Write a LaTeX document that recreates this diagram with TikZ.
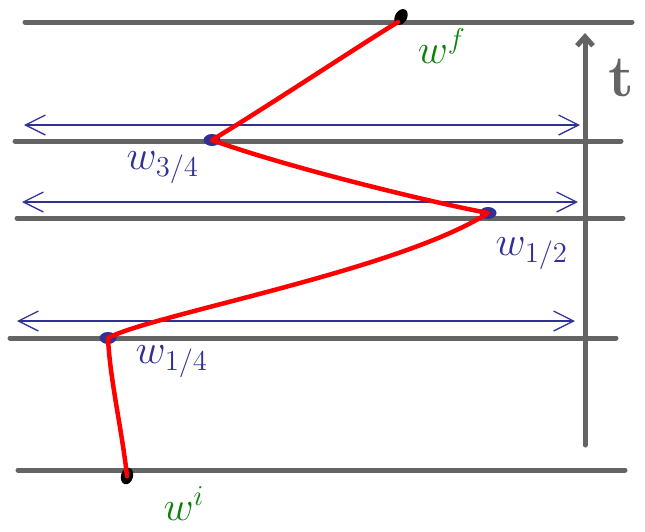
\documentclass[tikz,border=0pt]{standalone}
\usepackage{xcolor}
\usetikzlibrary{arrows.meta,shapes.geometric}
\definecolor{penblue}{RGB}{48,48,150}
\definecolor{pengray}{RGB}{100,100,100}
\definecolor{penred}{RGB}{255,0,0}
\definecolor{pengreen}{RGB}{10,130,10}

\begin{document}
\begin{tikzpicture}[
    x=1pt,y=-1pt,
    level/.style={draw=pengray,line width=5pt,line cap=round},
    span/.style={draw=penblue,line width=1.3pt,
      {Straight Barb[length=20pt,width=20pt]}-{Straight Barb[length=20pt,width=20pt]}},
    trail/.style={draw=penred,line width=4.5pt,line cap=round,line join=round},
    blob/.style={ellipse,fill=#1,minimum width=17pt,minimum height=12pt,inner sep=0pt},
    lbl/.style={font=\LARGE,scale=2.4,inner sep=1pt}
  ]
    \useasboundingbox (0,0) rectangle (645,531);
    % time levels
    \draw[level] (25,22) -- (632,22);
    \draw[level] (15,141) -- (621,141);
    \draw[level] (17,218) -- (623,218);
    \draw[level] (10,338) -- (616,338);
    \draw[level] (18,470) -- (625,470);
    % time axis
    \draw[level,-{Straight Barb[length=9pt,width=16pt]}] (585,445) -- (585,33);
    \node[text=pengray,font=\LARGE,scale=3.4] (t) at (621,78) {$\mathbf{t}$};
    % spans
    \draw[span] (24,125) -- (580,125);
    \draw[span] (22,202) -- (578,202);
    \draw[span] (17,321) -- (575,321);
    % points
    \node[blob=black,rotate=60] (wf) at (401,17) {};
    \node[blob=penblue] (wq) at (212,140) {};
    \node[blob=penblue] (wh) at (488,213) {};
    \node[blob=penblue] (wl) at (108,338) {};
    \node[blob=black,rotate=75] (wi) at (127,476) {};
    % red trail
    \draw[trail] (wi.center) .. controls (122,430) and (110,380) .. (wl.center)
      .. controls (150,315) and (400,270) .. (wh.center)
      .. controls (420,200) and (280,165) .. (wq.center)
      .. controls (270,105) and (360,45) .. (398,22);
    % labels
    \node[lbl,text=pengreen] (wfl) at (442,46) {$w^{f}$};
    \node[lbl,text=penblue] (wql) at (163,168) {$w_{3/4}$};
    \node[lbl,text=penblue] (whl) at (532,254) {$w_{1/2}$};
    \node[lbl,text=penblue] (wll) at (172,362) {$w_{1/4}$};
    \node[lbl,text=pengreen] (wil) at (184,504) {$w^{i}$};
\end{tikzpicture}
\end{document}
